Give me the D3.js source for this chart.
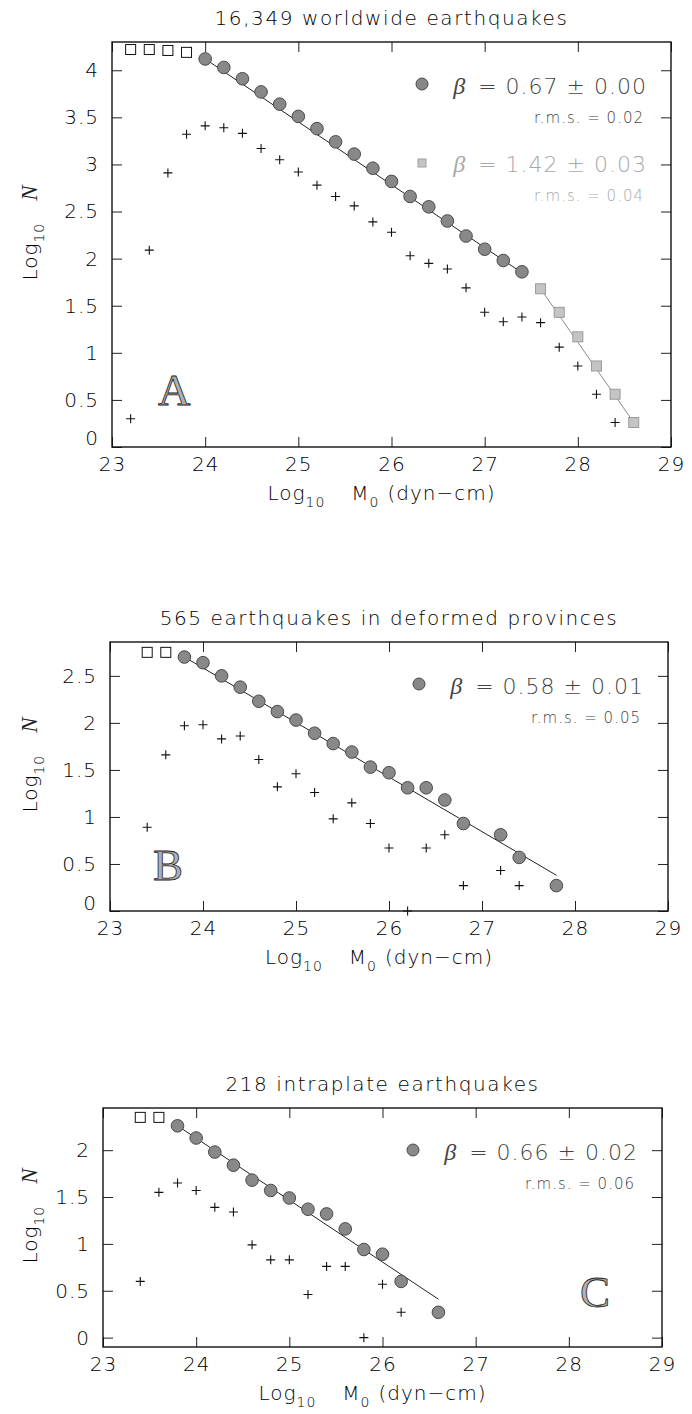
<!DOCTYPE html>
<html>
<head>
<meta charset="utf-8">
<script src="https://cdn.jsdelivr.net/npm/d3@7"></script>
<style>
  body { margin: 0; background: #fff; }
  svg text { font-family: "DejaVu Sans", sans-serif; font-weight: 300; }
</style>
</head>
<body>
<svg id="chart" width="692" height="1414"></svg>
<script>
// shared x axis
const xTicks = [23, 24, 25, 26, 27, 28, 29];

// panel A - worldwide
const aTitle = '16,349 worldwide earthquakes';
const aYTicks = [0, 0.5, 1, 1.5, 2, 2.5, 3, 3.5, 4];
const aSquareX = [23.2, 23.4, 23.6, 23.8];
const aSquareY = [4.22, 4.22, 4.21, 4.19];
const aCircleX = [24.0, 24.2, 24.4, 24.6, 24.8, 25.0, 25.2, 25.4, 25.6, 25.8, 26.0, 26.2, 26.4, 26.6, 26.8, 27.0, 27.2, 27.4];
const aCircleY = [4.12, 4.03, 3.91, 3.77, 3.64, 3.51, 3.38, 3.24, 3.11, 2.96, 2.82, 2.66, 2.55, 2.40, 2.24, 2.10, 1.98, 1.86];
const aFitX = [24.0, 27.4];
const aFitY = [4.12, 1.85];
const aGreyX = [27.6, 27.8, 28.0, 28.2, 28.4, 28.6];
const aGreyY = [1.68, 1.43, 1.17, 0.86, 0.56, 0.26];
const aGreyFitX = [27.6, 28.6];
const aGreyFitY = [1.68, 0.26];
const aCrossX = [23.2, 23.4, 23.6, 23.8, 24.0, 24.2, 24.4, 24.6, 24.8, 25.0, 25.2, 25.4, 25.6, 25.8, 26.0, 26.2, 26.4, 26.6, 26.8, 27.0, 27.2, 27.4, 27.6, 27.8, 28.0, 28.2, 28.4];
const aCrossY = [0.30, 2.09, 2.91, 3.32, 3.41, 3.39, 3.33, 3.17, 3.05, 2.92, 2.78, 2.66, 2.56, 2.39, 2.28, 2.03, 1.95, 1.89, 1.69, 1.43, 1.33, 1.38, 1.32, 1.06, 0.86, 0.56, 0.26];
const aBeta = ['0.67 ± 0.00', '1.42 ± 0.03'];
const aRms = ['0.02', '0.04'];

// panel B - deformed provinces
const bTitle = '565 earthquakes in deformed provinces';
const bYTicks = [0, 0.5, 1, 1.5, 2, 2.5];
const bSquareX = [23.4, 23.6];
const bSquareY = [2.75, 2.75];
const bCircleX = [23.8, 24.0, 24.2, 24.4, 24.6, 24.8, 25.0, 25.2, 25.4, 25.6, 25.8, 26.0, 26.2, 26.4, 26.6, 26.8, 27.2, 27.4, 27.8];
const bCircleY = [2.70, 2.64, 2.50, 2.38, 2.23, 2.12, 2.03, 1.89, 1.78, 1.69, 1.53, 1.47, 1.31, 1.31, 1.18, 0.93, 0.81, 0.57, 0.27];
const bFitX = [23.8, 27.8];
const bFitY = [2.70, 0.38];
const bCrossX = [23.4, 23.6, 23.8, 24.0, 24.2, 24.4, 24.6, 24.8, 25.0, 25.2, 25.4, 25.6, 25.8, 26.0, 26.2, 26.4, 26.6, 26.8, 27.2, 27.4];
const bCrossY = [0.89, 1.66, 1.97, 1.98, 1.83, 1.86, 1.61, 1.32, 1.46, 1.26, 0.98, 1.15, 0.93, 0.67, 0.00, 0.67, 0.81, 0.27, 0.43, 0.27];
const bBeta = ['0.58 ± 0.01'];
const bRms = ['0.05'];

// panel C - intraplate
const cTitle = '218 intraplate earthquakes';
const cYTicks = [0, 0.5, 1, 1.5, 2];
const cSquareX = [23.4, 23.6];
const cSquareY = [2.35, 2.35];
const cCircleX = [23.8, 24.0, 24.2, 24.4, 24.6, 24.8, 25.0, 25.2, 25.4, 25.6, 25.8, 26.0, 26.2, 26.6];
const cCircleY = [2.26, 2.13, 1.98, 1.84, 1.68, 1.57, 1.49, 1.37, 1.32, 1.16, 0.94, 0.89, 0.60, 0.27];
const cFitX = [23.8, 26.6];
const cFitY = [2.26, 0.41];
const cCrossX = [23.4, 23.6, 23.8, 24.0, 24.2, 24.4, 24.6, 24.8, 25.0, 25.2, 25.4, 25.6, 25.8, 26.0, 26.2];
const cCrossY = [0.60, 1.55, 1.65, 1.57, 1.39, 1.34, 0.99, 0.83, 0.83, 0.46, 0.76, 0.76, 0.00, 0.57, 0.27];
const cBeta = ['0.66 ± 0.02'];
const cRms = ['0.06'];

const zip = (xs, ys) => xs.map((v, i) => [v, ys[i]]);

const panels = [
  { title: aTitle, letter: 'A', box: [112, 671, 42, 447], yDomain: [0, 4.3], yTicks: aYTicks, zeroLift: 9,
    squares: zip(aSquareX, aSquareY), circles: zip(aCircleX, aCircleY), fit: zip(aFitX, aFitY),
    grey: zip(aGreyX, aGreyY), greyFit: zip(aGreyFitX, aGreyFitY), crosses: zip(aCrossX, aCrossY),
    beta: aBeta, rms: aRms, letterPos: [158, 405] },
  { title: bTitle, letter: 'B', box: [110, 668, 642, 911], yDomain: [0, 2.86], yTicks: bYTicks, zeroLift: 8,
    squares: zip(bSquareX, bSquareY), circles: zip(bCircleX, bCircleY), fit: zip(bFitX, bFitY),
    grey: [], greyFit: [], crosses: zip(bCrossX, bCrossY),
    beta: bBeta, rms: bRms, letterPos: [153, 880] },
  { title: cTitle, letter: 'C', box: [103, 662, 1108, 1347], yDomain: [-0.1, 2.45], yTicks: cYTicks, zeroLift: 0,
    squares: zip(cSquareX, cSquareY), circles: zip(cCircleX, cCircleY), fit: zip(cFitX, cFitY),
    grey: [], greyFit: [], crosses: zip(cCrossX, cCrossY),
    beta: cBeta, rms: cRms, letterPos: [580, 1307] }
];

const svg = d3.select('#chart');
const line = d3.line();

function drawPanel(p) {
  const [left, right, top, bottom] = p.box;
  const x = d3.scaleLinear().domain([23, 29]).range([left, right]);
  const y = d3.scaleLinear().domain(p.yDomain).range([bottom, top]);
  const g = svg.append('g');

  // axes, ticks pointing inward
  g.append('g').attr('transform', `translate(0,${bottom})`)
    .call(d3.axisBottom(x).tickValues(xTicks).tickSize(-10).tickPadding(10).tickFormat(d3.format('d')));
  g.append('g').attr('transform', `translate(0,${top})`)
    .call(d3.axisTop(x).tickValues(xTicks).tickSize(-10).tickFormat(''));
  const ly = g.append('g').attr('transform', `translate(${left},0)`)
    .call(d3.axisLeft(y).tickValues(p.yTicks).tickSize(-10).tickPadding(13).tickFormat(d => String(d)));
  g.append('g').attr('transform', `translate(${right},0)`)
    .call(d3.axisRight(y).tickValues(p.yTicks).tickSize(-10).tickFormat(''));
  g.selectAll('.domain').remove();
  g.selectAll('.tick line').attr('stroke', '#222').attr('stroke-width', 1);
  g.selectAll('.tick text').attr('fill', '#000').style('font-size', '20px').style('letter-spacing', '1px');
  ly.selectAll('.tick').filter(d => d === 0).select('text').attr('y', -p.zeroLift);

  g.append('rect')
    .attr('x', left).attr('y', top)
    .attr('width', right - left).attr('height', bottom - top)
    .attr('fill', 'none').attr('stroke', '#111').attr('stroke-width', 1.4);

  // title
  g.append('text')
    .attr('x', (left + right) / 2).attr('y', top - 17)
    .attr('text-anchor', 'middle').attr('fill', '#000')
    .style('font-size', '20px').style('letter-spacing', '1.6px')
    .text(p.title);

  // axis labels
  const xl = g.append('text')
    .attr('x', (left + right) / 2 - 10).attr('y', bottom + 53)
    .attr('text-anchor', 'middle').attr('fill', '#000')
    .style('font-size', '20px').style('letter-spacing', '1px');
  xl.append('tspan').text('Log');
  xl.append('tspan').attr('dy', 7).style('font-size', '14px').text('10');
  xl.append('tspan').attr('dy', -7).attr('dx', 26).text('M');
  xl.append('tspan').attr('dy', 7).style('font-size', '14px').text('0');
  xl.append('tspan').attr('dy', -7).attr('dx', 8).text('(dyn−cm)');

  const yl = g.append('text')
    .attr('transform', `translate(37,${(top + bottom) / 2 - 12}) rotate(-90)`)
    .attr('text-anchor', 'middle').attr('fill', '#000')
    .style('font-size', '20px').style('letter-spacing', '1px');
  yl.append('tspan').text('Log');
  yl.append('tspan').attr('dy', 7).style('font-size', '14px').text('10');
  yl.append('tspan').attr('dy', -7).attr('dx', 22)
    .style('font-family', '"Liberation Serif", serif').style('font-style', 'italic').style('font-weight', 'normal')
    .style('font-size', '23px').attr('fill', '#222').text('N');

  // fitted lines
  g.append('path').attr('d', line(p.fit.map(d => [x(d[0]), y(d[1])])))
    .attr('fill', 'none').attr('stroke', '#222').attr('stroke-width', 1);
  if (p.greyFit.length) {
    g.append('path').attr('d', line(p.greyFit.map(d => [x(d[0]), y(d[1])])))
      .attr('fill', 'none').attr('stroke', '#8a8a8a').attr('stroke-width', 1);
  }

  // incremental counts (+)
  g.selectAll('.cross').data(p.crosses).join('path')
    .attr('transform', d => `translate(${x(d[0])},${y(d[1])})`)
    .attr('d', 'M-4.5,0H4.5M0,-4.5V4.5')
    .attr('stroke', '#111').attr('stroke-width', 1.1).attr('fill', 'none');

  // open squares, below completeness
  g.selectAll('.sq').data(p.squares).join('rect')
    .attr('x', d => x(d[0]) - 5).attr('y', d => y(d[1]) - 5)
    .attr('width', 10).attr('height', 10)
    .attr('fill', '#fff').attr('stroke', '#111').attr('stroke-width', 1);

  // grey squares (large events)
  g.selectAll('.gsq').data(p.grey).join('rect')
    .attr('x', d => x(d[0]) - 5).attr('y', d => y(d[1]) - 5)
    .attr('width', 10).attr('height', 10)
    .attr('fill', '#c4c4c4').attr('stroke', '#9a9a9a').attr('stroke-width', 1);

  // cumulative circles
  g.selectAll('.circ').data(p.circles).join('circle')
    .attr('cx', d => x(d[0])).attr('cy', d => y(d[1])).attr('r', 6.3)
    .attr('fill', '#888').attr('stroke', '#4a4a4a').attr('stroke-width', 1);

  // legend
  const legColors = ['#444', '#a8a8a8'];
  p.beta.forEach((b, i) => {
    const ly0 = top + 52 + i * 78;
    if (i === 0) {
      g.append('circle').attr('cx', right - 249).attr('cy', ly0 - 10).attr('r', 6)
        .attr('fill', '#888').attr('stroke', '#4a4a4a');
    } else {
      g.append('rect').attr('x', right - 253).attr('y', ly0 - 13).attr('width', 8).attr('height', 8)
        .attr('fill', '#c4c4c4').attr('stroke', '#a0a0a0');
    }
    const t = g.append('text').attr('x', right - 24).attr('y', ly0)
      .attr('text-anchor', 'end').attr('fill', legColors[i])
      .style('font-size', '22px').style('letter-spacing', '1px');
    t.append('tspan').style('font-family', '"Liberation Serif", serif').style('font-style', 'italic')
      .style('font-weight', 'normal').style('font-size', '24px').text('β');
    t.append('tspan').attr('dx', 4).text(' = ' + b);
    g.append('text').attr('x', right - 27).attr('y', ly0 + 29)
      .attr('text-anchor', 'end').attr('fill', legColors[i])
      .style('font-size', '15px').style('letter-spacing', '1px')
      .text('r.m.s. = ' + p.rms[i]);
  });

  // panel letter
  g.append('text').attr('x', p.letterPos[0]).attr('y', p.letterPos[1])
    .style('font-family', '"Liberation Serif", serif').style('font-weight', 'normal').style('font-size', '45px')
    .attr('fill', '#b0b0b0').attr('stroke', '#222').attr('stroke-width', 0.8)
    .text(p.letter);
}

panels.forEach(drawPanel);
</script>
</body>
</html>
